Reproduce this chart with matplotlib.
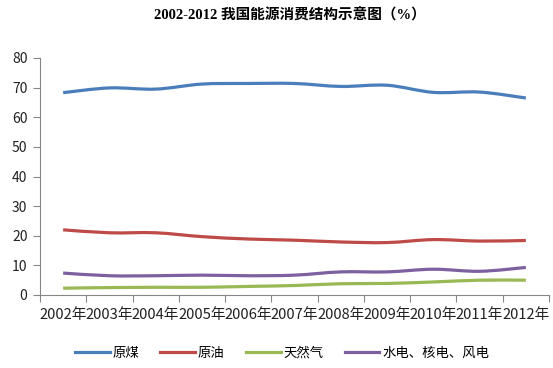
import numpy as np
import matplotlib
matplotlib.use('Agg')
import matplotlib.pyplot as plt
from matplotlib.path import Path
from matplotlib.patches import PathPatch
from matplotlib.lines import Line2D

plt.rcParams['font.family'] = ['Noto Sans CJK SC', 'DejaVu Sans']

anios = ['2002年', '2003年', '2004年', '2005年', '2006年', '2007年',
         '2008年', '2009年', '2010年', '2011年', '2012年']
yuanmei = [68.3, 69.9, 69.5, 71.2, 71.4, 71.4, 70.4, 70.8, 68.4, 68.5, 66.5]
yuanyou = [22.0, 21.0, 21.0, 19.7, 18.9, 18.5, 17.9, 17.7, 18.7, 18.2, 18.4]
tianranqi = [2.3, 2.5, 2.6, 2.6, 2.9, 3.2, 3.8, 3.9, 4.4, 5.0, 5.0]
shuidian = [7.4, 6.5, 6.5, 6.7, 6.5, 6.7, 7.8, 7.8, 8.7, 8.0, 9.3]

series = [('原煤', yuanmei, '#4a7ebb'),
          ('原油', yuanyou, '#be4b48'),
          ('天然气', tianranqi, '#98b954'),
          ('水电、核电、风电', shuidian, '#7d60a0')]


def curva_suave(x, y):
    # curva tipo Excel (Catmull-Rom con Bezier)
    x = np.asarray(x, float)
    y = np.asarray(y, float)
    verts = [(x[0], y[0])]
    codes = [Path.MOVETO]
    n = len(x)
    for i in range(n - 1):
        x0, y0 = (x[i - 1], y[i - 1]) if i > 0 else (x[i], y[i])
        x3, y3 = (x[i + 2], y[i + 2]) if i + 2 < n else (x[i + 1], y[i + 1])
        c1 = (x[i] + (x[i + 1] - x0) / 6, y[i] + (y[i + 1] - y0) / 6)
        c2 = (x[i + 1] - (x3 - x[i]) / 6, y[i + 1] - (y3 - y[i]) / 6)
        verts += [c1, c2, (x[i + 1], y[i + 1])]
        codes += [Path.CURVE4] * 3
    return Path(verts, codes)


fig = plt.figure(figsize=(5.53, 3.68), dpi=100)
ax = fig.add_axes([40 / 553, 1 - 295 / 368, 509 / 553, 237 / 368])

pos = np.arange(len(anios))
for nombre, valores, color in series:
    p = PathPatch(curva_suave(pos, valores), facecolor='none', edgecolor=color,
                  lw=2.3, capstyle='butt', joinstyle='round')
    ax.add_patch(p)

ax.set_xlim(-0.5, len(anios) - 0.5)
ax.set_ylim(0, 80)
ax.set_yticks(range(0, 81, 10))
ax.set_xticks(pos)
ax.set_xticklabels(anios, fontsize=10.6)
ax.set_xticks(np.arange(-0.5, len(anios), 1), minor=True)
ax.tick_params(axis='x', which='major', length=0, pad=9, labelcolor='#222222')
ax.tick_params(axis='x', which='minor', length=5, color='#868686', width=0.8)
ax.tick_params(axis='y', length=5, color='#868686', width=0.8, labelsize=10, pad=4,
               labelcolor='#222222')

for s in ['top', 'right']:
    ax.spines[s].set_visible(False)
for s in ['left', 'bottom']:
    ax.spines[s].set_color('#868686')
    ax.spines[s].set_linewidth(0.8)

fig.text(290 / 553, 1 - 15 / 368, '2002-2012 我国能源消费结构示意图（%）', ha='center', va='center',
         fontsize=10.5, fontweight='bold', family=['Liberation Serif', 'Noto Sans CJK SC'])

handles = [Line2D([], [], color=c, lw=2.3) for _, _, c in series]
fig.legend(handles, [n for n, _, _ in series], loc='center', bbox_to_anchor=(0.51, 1 - 353 / 368),
           ncol=4, frameon=False, fontsize=9.6, handlelength=2.6, handletextpad=0.2,
           columnspacing=1.6)

fig.savefig('out.png', dpi=100)
